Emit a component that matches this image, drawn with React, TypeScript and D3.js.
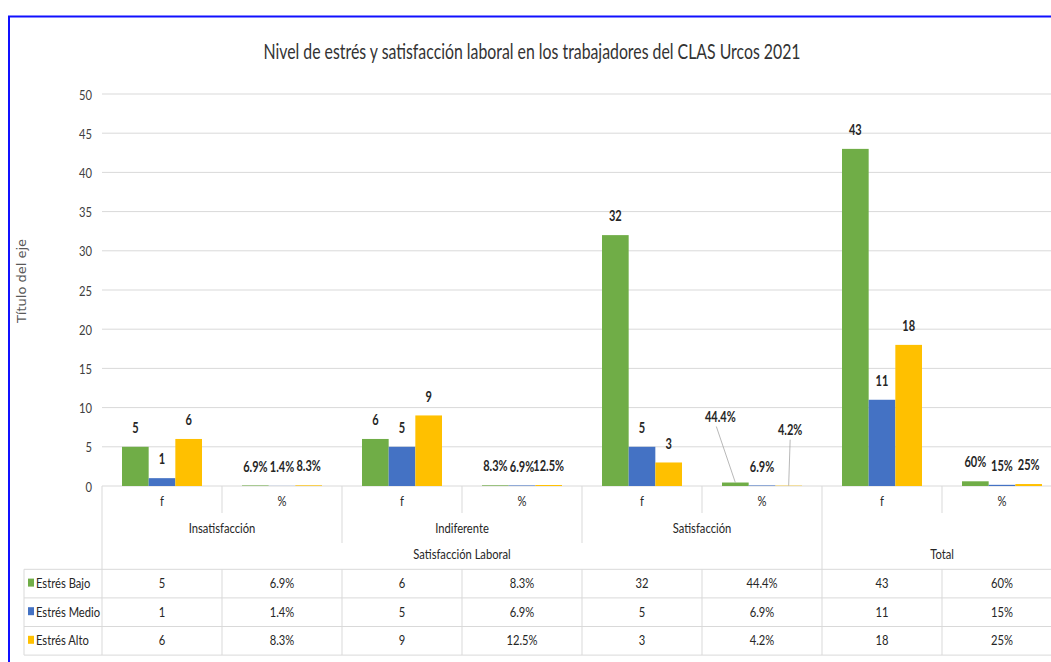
import React from "react";
import * as d3 from "d3";

// ---- data ----
const subLabels = ["f", "%"];
const groups = ["Insatisfacción", "Indiferente", "Satisfacción", ""];
const topGroups = ["Satisfacción Laboral", "Total"];
const topSpans = [3, 1];
const seriesNames = ["Estrés Bajo", "Estrés Medio", "Estrés Alto"];
const seriesColors = ["#70AD47", "#4472C4", "#FFC000"];
const bajo = [5, 0.069, 6, 0.083, 32, 0.444, 43, 0.6];
const medio = [1, 0.014, 5, 0.069, 5, 0.069, 11, 0.15];
const alto = [6, 0.083, 9, 0.125, 3, 0.042, 18, 0.25];
const yTicks = [0, 5, 10, 15, 20, 25, 30, 35, 40, 45, 50];
const title = "Nivel de estrés y satisfacción laboral en los trabajadores del CLAS Urcos 2021";
const yTitle = "Título del eje";

const seriesValues = [bajo, medio, alto];

// label offsets for manually moved labels (column index, series index)
const movedLabels: Record<string, { dx: number; dy: number }> = {
  "5-0": { dx: -15, dy: -66 },
  "5-2": { dx: 1.5, dy: -56 },
};

const FONT = "Lato, 'Open Sans', sans-serif";
const GRID = "#d9d9d9";
const TEXT = "#262626";
const SX = 0.8;

const fmt = (v: number, col: number) =>
  col % 2 === 0 ? String(v) : `${+(v * 100).toFixed(1)}%`;

type TProps = {
  x: number;
  y: number;
  anchor?: "start" | "middle" | "end";
  size?: number;
  sx?: number;
  weight?: number;
  fill?: string;
  children: React.ReactNode;
};

function T({ x, y, anchor = "middle", size = 14, sx = SX, weight = 400, fill = TEXT, children }: TProps) {
  return (
    <text
      transform={`translate(${x},${y}) scale(${sx},1)`}
      textAnchor={anchor}
      dominantBaseline="central"
      fontSize={size}
      fontWeight={weight}
      fill={fill}
    >
      {children}
    </text>
  );
}

export default function App() {
  const W = 1051;
  const H = 662;
  const plotLeft = 102;
  const plotRight = 1062;
  const y0 = 486;
  const yTop = 94;

  const cols = groups.flatMap((g, gi) => subLabels.map((s, si) => `${gi}-${si}`));
  const x = d3.scaleBand<string>().domain(cols).range([plotLeft, plotRight]).padding(0);
  const bw = x.bandwidth();
  const xs = d3
    .scaleBand<string>()
    .domain(seriesNames)
    .range([bw / 6, bw - bw / 6])
    .padding(0);
  const y = d3.scaleLinear().domain([0, 50]).range([y0, yTop]);

  const tableTop = 569.3;
  const rowH = 28.6;

  const catLevel1Y = 500;
  const catLevel2Y = 527;
  const catLevel3Y = 553;

  let acc = 0;
  const topSpansPx = topGroups.map((t, i) => {
    const startCol = acc * 2;
    acc += topSpans[i];
    const endCol = acc * 2 - 1;
    const x0 = x(cols[startCol])!;
    const x1 = x(cols[endCol])! + bw;
    return { label: t, x0, x1 };
  });

  return (
    <svg
      width={W}
      height={H}
      style={{ position: "fixed", left: 0, top: 0, background: "#fff" }}
      fontFamily={FONT}
    >
      <rect x={0} y={0} width={W} height={H} fill="#fff" />
      {/* blue frame */}
      <path d={`M9,${H} L9,16.5 L${W},16.5`} fill="none" stroke="#1010ff" strokeWidth={2} />

      {/* title */}
      <T x={532} y={50} size={22} sx={0.72} fill="#333">
        {title}
      </T>

      {/* y axis title */}
      <text
        transform={`translate(21,281) rotate(-90)`}
        textAnchor="middle"
        dominantBaseline="central"
        fontFamily="'DejaVu Sans', sans-serif"
        fontSize={13}
        fill="#595959"
      >
        {yTitle}
      </text>

      {/* gridlines and ticks */}
      {yTicks.map((t) => (
        <g key={t}>
          <line x1={plotLeft} x2={plotRight} y1={y(t)} y2={y(t)} stroke={GRID} strokeWidth={1} />
          <T x={92} y={y(t)} anchor="end" fill="#404040">
            {t}
          </T>
        </g>
      ))}

      {/* bars */}
      {seriesValues.map((vals, si) =>
        vals.map((v, ci) => {
          const bx = x(cols[ci])! + xs(seriesNames[si])!;
          return (
            <rect
              key={`b-${si}-${ci}`}
              x={bx}
              y={y(v)}
              width={xs.bandwidth()}
              height={y0 - y(v)}
              fill={seriesColors[si]}
            />
          );
        })
      )}

      {/* data labels */}
      {seriesValues.map((vals, si) =>
        vals.map((v, ci) => {
          const cx = x(cols[ci])! + xs(seriesNames[si])! + xs.bandwidth() / 2;
          const top = y(v);
          const moved = movedLabels[`${ci}-${si}`];
          const lx = moved ? cx + moved.dx : cx;
          const ly = moved ? top + moved.dy : top - 19.5;
          return (
            <g key={`l-${si}-${ci}`}>
              {moved && (
                <line
                  x1={lx + (moved.dx < 0 ? -4 : 0)}
                  y1={ly + 10}
                  x2={cx}
                  y2={top}
                  stroke="#a6a6a6"
                  strokeWidth={0.8}
                />
              )}
              <T x={lx} y={ly} size={14.5} sx={0.76} weight={700}>
                {fmt(v, ci)}
              </T>
            </g>
          );
        })
      )}

      {/* category axis separators */}
      {cols.map((c, ci) => {
        const xx = x(c)!;
        let y2 = 513;
        if (ci % 2 === 0) y2 = 543;
        if (ci === 0 || ci === topSpans[0] * 2) y2 = tableTop;
        return <line key={`s-${ci}`} x1={xx} x2={xx} y1={y0} y2={y2} stroke={GRID} strokeWidth={1} />;
      })}

      {/* level 1 labels */}
      {cols.map((c, ci) => (
        <T key={`c1-${ci}`} x={x(c)! + bw / 2} y={catLevel1Y}>
          {subLabels[ci % 2]}
        </T>
      ))}

      {/* level 2 labels */}
      {groups.map((g, gi) => (
        <T key={`c2-${gi}`} x={x(cols[gi * 2])! + bw} y={catLevel2Y}>
          {g}
        </T>
      ))}

      {/* level 3 labels */}
      {topSpansPx.map((t) => (
        <T key={t.label} x={(t.x0 + t.x1) / 2} y={catLevel3Y}>
          {t.label}
        </T>
      ))}

      {/* data table */}
      {[0, 1, 2, 3].map((r) => (
        <line
          key={`h-${r}`}
          x1={24}
          x2={plotRight}
          y1={tableTop + r * rowH}
          y2={tableTop + r * rowH}
          stroke={GRID}
          strokeWidth={1}
        />
      ))}
      <line x1={24} x2={24} y1={tableTop} y2={tableTop + 3 * rowH} stroke={GRID} strokeWidth={1} />
      {cols.map((c, ci) => (
        <line
          key={`tv-${ci}`}
          x1={x(c)!}
          x2={x(c)!}
          y1={tableTop}
          y2={tableTop + 3 * rowH}
          stroke={GRID}
          strokeWidth={1}
        />
      ))}
      {seriesNames.map((name, si) => {
        const cy = tableTop + si * rowH + rowH / 2 - 1;
        return (
          <g key={`row-${si}`}>
            <rect x={28} y={cy - 4} width={6} height={8} fill={seriesColors[si]} />
            <T x={36} y={cy} anchor="start">
              {name}
            </T>
            {seriesValues[si].map((v, ci) => (
              <T key={`tc-${ci}`} x={x(cols[ci])! + bw / 2} y={cy}>
                {fmt(v, ci)}
              </T>
            ))}
          </g>
        );
      })}
    </svg>
  );
}
